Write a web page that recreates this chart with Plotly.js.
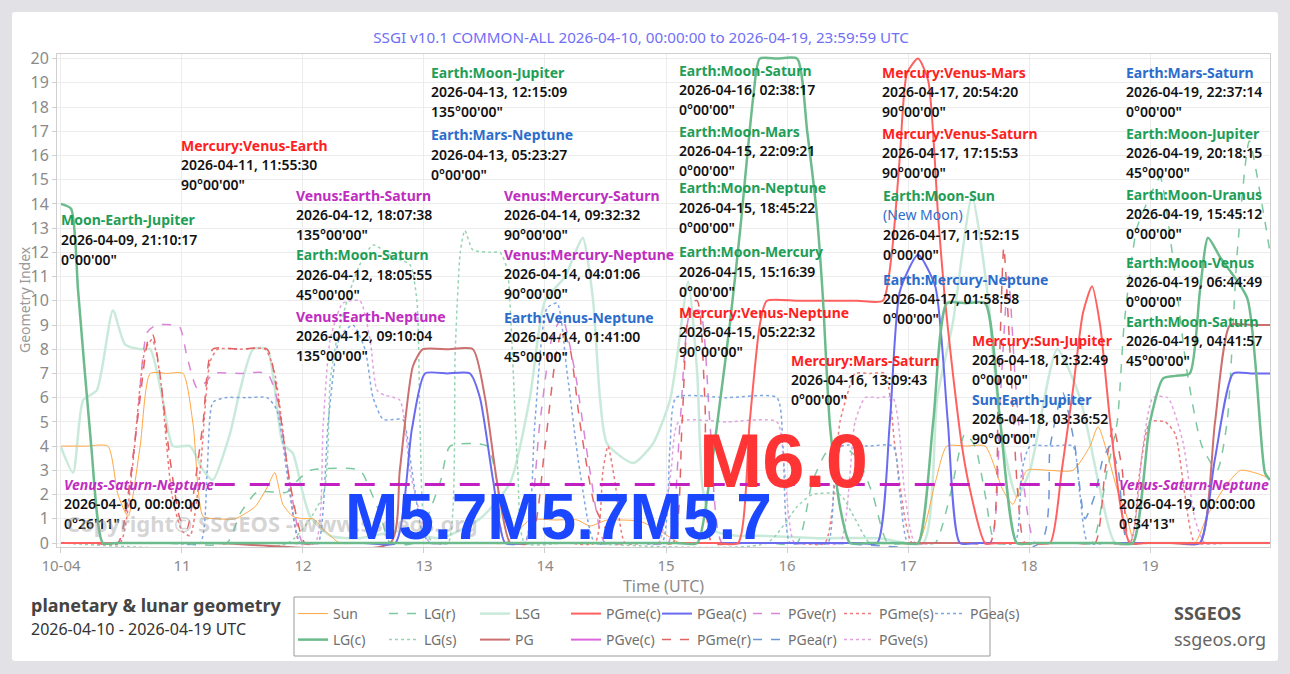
<!DOCTYPE html>
<html><head><meta charset="utf-8">
<script src="https://cdn.plot.ly/plotly-3.0.1.min.js"></script>
<style>
html,body{margin:0;padding:0;background:#e2e1e5;width:1290px;height:674px;overflow:hidden;}
#card{position:absolute;left:12px;top:12px;width:1266px;height:649px;background:#fff;border-radius:3px;}
#chart{position:absolute;left:0;top:0;width:1290px;height:674px;}
</style></head><body>
<div id="card"></div><div id="chart"></div>
<script>
// ---------------- DATA (hours since 2026-04-10 00:00 UTC, index value) ----------------
const dayLabels = ['10-04','11','12','13','14','15','16','17','18','19'];

const sunH = [0,5,9.3,11.3,13.3,15.7,17.7,21,24.2,26.2,28.2,31,34.5,38.5,40.9,42.4,44.0,46.0,48,50.0,52.4,55.3,60,84,88.1,93.0,98,102.4,104.9,108.3,111,114.8,118.8,122.8,128,165,170.0,173.4,175.7,179.5,183.3,186.8,188.8,191.6,196,200.7,204.1,205.7,209.5,211.4,213.0,216,221,224.9,227.3,230.8,233.9,236.8,239.4];
const sunV = [4,4,4,2,1.1,4,7,7,7,4.9,1.1,1,1,1.5,2.3,2.9,1.6,1.1,1,1,0.5,0,0,0,0,0.95,0.95,0.95,0.7,0.95,0.95,0.9,0.5,0,0,0,0,2.5,4,4,4,2.2,1.6,3,3,3,4,4.8,2.2,1.1,0,0,0,0,1.1,2.3,3,2.9,2.7];

const lgcH = [0,2.0,3.4,6.0,8.3,11,60,122,126.2,128.7,130.7,132.7,134.7,137.3,138.6,142,146.0,148.0,149.9,151.1,152.5,154.5,156.5,160,167,170,173,175.7,179.5,183.3,186.3,189.6,193,209,212.6,216,218.6,221,223.9,225.9,227.5,229.9,235.3,238.8,239.8];
const lgcV = [14,13.8,10.4,4,0,0,0,0,0,2.7,5.8,9.1,12.9,18.4,20,20,20,17,13.6,10.2,4.9,1.5,0,0,0,0,5,9.9,9.9,9.9,5,0,0,0,0,5,6.8,6.9,7.0,10.4,12.6,11.8,10.1,2.9,2.6];

const lgrH = [0,20,32.9,35.5,38.9,44.8,47,49.4,59.3,61.3,63.3,65.3,70,75.2,77.2,84.5,86.5,88.1,95,140,146,149,152,155,158,161,164,168,170,173.4,176.4,179.3,181.3,183.3,185.3,189,201,204.5,207.5,209.5,210.9,213.4,216.4,218.0,220.4,223.4,226.3,229.3,231.3,233.3,235.7,238.2,239.8];
const lgrV = [0,0,0,1.2,2.1,2.1,2.6,3,3,2.2,1.2,0,0,2.5,4,4,2.5,0,0,0,0,2.5,3.8,4,3.5,2,0,0,0,0,2,4.5,4,2,0,0,0,0,3,5,9.1,13,14.5,15.1,12,7,4,3,5,12,16.6,14,12];

const lgsH = [0,45,52.0,53.4,54.7,57.3,59.3,61.9,65.9,69.2,70.6,71.2,72.2,74,76.8,78.2,79.2,80.1,81.7,85.1,87.1,88.5,89.5,90.6,92.0,100,140,146,149,154.5,157.5,160.4,165,239.8];
const lgsV = [0,0,2,6.7,8.4,10.4,11.5,12.3,11.8,11.5,10,5,0.5,0,0,8,12,12.9,12.1,12,12,11.3,8,3,0,0,0,1.5,2,2,1,0,0,0];

const lsgH = [0,2.4,4.4,7.1,10.3,12.7,15.7,17.7,20.2,22.2,25.6,28.2,30.1,33.5,35.5,38.1,40.9,44.0,46.0,47.8,49.4,53.4,59.3,67.2,75.2,83.1,89.1,93.0,96.0,100.0,102.0,103.5,105.5,106.9,108.3,113.5,117.4,120.8,122.2,124.4,126.2,127.3,129.7,134,138.6,150,162.4,171.0,173.8,176.9,180.7,183.9,184.9,186.8,189.6,192.2,197.6,202.1,206.1,209.1,215,239.8];
const lsgV = [3.96,2.9,5.9,6.3,9.6,8.2,8.0,8.0,5.9,4.0,4.0,3.0,2.6,4.5,6.3,8.0,8.0,4.1,3.7,2.2,1.1,0.3,0.2,0.5,0.2,1,2.5,6,10,11,12,12.6,10.1,6,4.1,3.3,4.1,5.9,7.7,10.8,7.0,2.2,0.5,0.3,0.3,0.2,0.2,0,6,9.1,14.3,10.1,7.7,4.2,1.9,3,8,6,2.2,0,0,0];

const pgH = [0,30,65.3,67.2,69.8,71.8,76.7,81.7,84.1,86.5,89.1,92,220,225.9,228.9,231.9,236,239.8];
const pgV = [0,0,0,3,7.3,8,8,8,6,2.5,0,0,0,0,5,9,9,9];

const pgmecH = [0,60,130,134.3,136.6,138.6,140.0,146,152,158,163.0,164.8,166.4,167.8,170.0,172.0,174.0,175.3,176.9,178.7,180.3,183.3,186,193,196.2,198.5,200.7,202.7,204.5,206.1,208.1,210.1,212.0,215,239.8];
const pgmecV = [0,0,0,0,5,9,10,10,10,10,10,12,16,19.4,20,19.1,13.4,10.1,7,4,2.2,0,0,0,0,3,6.3,9.5,10.6,9,5,1.6,0,0,0];

const pgeacH = [0,60,66.3,69.6,72.2,76.6,81.1,83.1,85.7,88.1,92,158,161.9,164.4,166.4,170.0,173.4,175.9,178.3,182,222,225.9,228.9,232.5,236,239.8];
const pgeacV = [0,0,0,4.7,7,7,7,6,2.6,0,0,0,0,5,10.4,11.9,10.6,5,0,0,0,0,3.5,7,7,7];

const pgvecH = [0,239.8];
const pgvecV = [0,0];

const pgverH = [0,6,11.3,13.1,15.1,17.1,19.0,22.2,23.6,25.0,27.0,29.0,30.1,35.5,40.9,42.8,45.4,48.0,52,88,92.0,95.0,97.4,99.4,102.0,104.9,107.9,112,116,120.4,122.8,124.8,126.7,128.7,131.1,136,180,184.3,186.3,187.9,189.2,191.2,193.2,198,239.8];
const pgverV = [0,0,0,1.5,5,8.7,9.0,9.0,8.9,7.7,6.4,6.7,7.0,7.0,7.0,6,2.5,0,0,0,0,5,8.5,9.3,7,3,0,0,0,0,5,9.5,9.6,5,0,0,0,0,6,11,7,2,0,0,0];

const pgvesH = [0,45,50.4,52,53.4,55.9,59.3,61.3,62.7,64.3,67.2,69.2,71.2,73.2,78,114,118.5,121,122.5,132,142,143.5,145.5,150,154.5,157.5,159.5,162,165,167.4,169.4,174,208,212,214.6,216.6,219.5,222.5,224.9,226.9,232,239.8];
const pgvesV = [0,0,0,4.9,8.4,9.9,10,8.4,6.3,6.1,5.9,3,1.2,0,0,0,0,3,5,5,5,3,0,0,0,5,6,6,6,2,0,0,0,0,4,6,6,4.2,1,0,0,0];

const pgmerH = [0,6,11.3,13.3,15.7,17.3,18.2,19.6,21.6,23.6,25.0,26.6,28.2,30.1,35.5,40.9,42.8,45.4,48.4,52,88,93.0,96.0,98.0,99.4,101.0,102.9,105.9,108.3,109.9,114,117,121.4,123.2,124.8,126.2,127.7,129.1,134,180,184.3,185.9,187.0,188.2,189.8,191.2,196,201,205.1,207.1,208.7,210.5,212.0,216,239.8];
const pgmerV = [0,0,0,2,6,8.4,8.6,7,3.5,1,0.6,2.5,5,8.0,8.0,8.0,6.3,2.5,0,0,0,0,4,7.5,8.8,8,5,1.5,0.5,0,0,0,0,5,9.9,10,6,0,0,0,0,6,12.2,8,2,0,0,0,0,3,4.8,3,0,0,0];

const pgmesH = [0,6,11.7,14.1,16.7,18.1,19.6,22.0,24.0,25.6,27.6,29.6,31.1,35.5,40.5,42.4,45.0,47.4,52,100,105.9,107.5,108.5,109.9,111.9,116,146,151.5,154.5,156.5,157.5,160.5,163.4,165.4,167.4,168.8,173,207,212.0,214.0,216.0,219.0,221.0,222.9,224.9,229,239.8];
const pgmesV = [0,0,0,3,8,8.4,7,2,0.5,0.3,3,7.5,8,8,8,7,3,0,0,0,0,3,4,2.5,0,0,0,0,5,6.5,7,7,7,4,1,0,0,0,0,3,5,5,4.5,2,0,0,0];

const pgeasH = [0,22,27.6,29.0,30.1,32.5,36.7,40.9,42.8,45.4,47.4,49,51.0,53.0,55.3,57.9,60.3,61.9,63.9,65.9,67.8,69.6,71.6,73.2,78,88,92.0,94.0,96.4,98.4,100.4,102.9,105.9,110,115,119.2,120.8,122.0,132,142.0,143.2,144.6,148,152.1,153.5,154.9,160,165.0,166.4,168.0,172,185,189.2,190.6,192.2,196.5,200.7,202.1,203.7,208,239.8];
const pgeasV = [0,0,0,3,5.8,6,6,6,5.5,2,0,0,0,5,8.5,9,8,6,5.1,5.1,5.1,3,0.5,0,0,0,0,5,9.7,9.9,7,3,0,0,0,0,4,6,6,6,4,0,0,0,3,4,4,4,2,0,0,0,0,3,4,4,4,2,0,0,0];

const pgearH = [0,150,194.2,196.2,198.7,201.1,203.1,205.1,206.7,208.1,209.7,211.6,216,239.8];
const pgearV = [0,0,0,4,6.2,4,1,2,3.5,4,3,0,0,0];

// horizontal Venus-Saturn-Neptune level
const vsnH = [30.5, 206.0];
const vsnV = [2.42, 2.42];

// event labels
const evTitle = ['Moon-Earth-Jupiter','Mercury:Venus-Earth','Venus:Earth-Saturn','Earth:Moon-Saturn','Venus:Earth-Neptune',
 'Earth:Moon-Jupiter','Earth:Mars-Neptune','Venus:Mercury-Saturn','Venus:Mercury-Neptune','Earth:Venus-Neptune',
 'Earth:Moon-Saturn','Earth:Moon-Mars','Earth:Moon-Neptune','Earth:Moon-Mercury','Mercury:Venus-Neptune','Mercury:Mars-Saturn',
 'Mercury:Venus-Mars','Mercury:Venus-Saturn','Earth:Moon-Sun','Earth:Mercury-Neptune','Mercury:Sun-Jupiter','Sun:Earth-Jupiter',
 'Earth:Mars-Saturn','Earth:Moon-Jupiter','Earth:Moon-Uranus','Earth:Moon-Venus','Earth:Moon-Saturn',
 'Venus-Saturn-Neptune','Venus-Saturn-Neptune'];
const evNote = ['','','','','','','','','','','','','','','','','','','(New Moon)','','','','','','','','','',''];
const evTime = ['2026-04-09, 21:10:17','2026-04-11, 11:55:30','2026-04-12, 18:07:38','2026-04-12, 18:05:55','2026-04-12, 09:10:04',
 '2026-04-13, 12:15:09','2026-04-13, 05:23:27','2026-04-14, 09:32:32','2026-04-14, 04:01:06','2026-04-14, 01:41:00',
 '2026-04-16, 02:38:17','2026-04-15, 22:09:21','2026-04-15, 18:45:22','2026-04-15, 15:16:39','2026-04-15, 05:22:32','2026-04-16, 13:09:43',
 '2026-04-17, 20:54:20','2026-04-17, 17:15:53','2026-04-17, 11:52:15','2026-04-17, 01:58:58','2026-04-18, 12:32:49','2026-04-18, 03:36:52',
 '2026-04-19, 22:37:14','2026-04-19, 20:18:15','2026-04-19, 15:45:12','2026-04-19, 06:44:49','2026-04-19, 04:41:57',
 '2026-04-10, 00:00:00','2026-04-19, 00:00:00'];
const evAngle = ['0°00\'00"','90°00\'00"','135°00\'00"','45°00\'00"','135°00\'00"',
 '135°00\'00"','0°00\'00"','90°00\'00"','90°00\'00"','45°00\'00"',
 '0°00\'00"','0°00\'00"','0°00\'00"','0°00\'00"','90°00\'00"','0°00\'00"',
 '90°00\'00"','90°00\'00"','0°00\'00"','0°00\'00"','0°00\'00"','90°00\'00"',
 '0°00\'00"','45°00\'00"','0°00\'00"','0°00\'00"','45°00\'00"',
 '0°26\'11"','0°34\'13"'];
const evKind = ['lunar','mercury','venus','lunar','venus','lunar','earth','venus','venus','earth',
 'lunar','lunar','lunar','lunar','mercury','mercury','mercury','mercury','lunar','earth','mercury','earth',
 'earth','lunar','lunar','lunar','lunar','triple','triple'];

// ---------------- LAYOUT / STYLE ----------------
const W = 1290, H = 674;
const PL = 57, PR = 1270, PT = 54, PB = 547;
const kindColor = {lunar:'#1f9e57', mercury:'#ff1f1f', venus:'#c02cc0', earth:'#2c6dcc', triple:'#c02cc0'};
// label anchor pixel positions (left edge, centre of first line)
const evPos = [[59,220],[179,145],[294,195],[294,255],[294,316],[429,72],[429,135],[502,195],[502,254],[502,317],
 [677,70],[677,131],[677,188],[677,252],[677,312],[789,360],[880,72],[880,133],[881,195],[881,279],[970,340],[970,399],
 [1124,72],[1124,133],[1124,194],[1124,262],[1124,321],[62,484],[1117,484]];

const base = Date.UTC(2026,3,10);
function T(h){ return new Date(base + h*3600000).toISOString().replace('T',' ').slice(0,19); }
const px2x = p => (p-PL)/(PR-PL);
const px2y = p => (PB-p)/(PB-PT);

function tr(name, hs, vs, color, width, dash, legend, rank){
  return {type:'scatter', mode:'lines', name:name, x:hs.map(T), y:vs,
    line:{color:color, width:width, dash:dash, shape:'spline', smoothing:0.6, simplify:false},
    legend:legend, legendrank:rank, hoverinfo:'skip'};
}
const traces = [
  tr('PGve(c)', pgvecH, pgvecV, '#dd66dd', 2, 'solid', 'legend2', 12),
  tr('LSG', lsgH, lsgV, '#c9eadb', 2.5, 'solid', 'legend', 3),
  tr('Sun', sunH, sunV, '#ffa640', 1, 'solid', 'legend', 1),
  tr('LG(r)', lgrH, lgrV, '#7cc9a0', 1.5, 'dash', 'legend', 2),
  tr('LG(s)', lgsH, lgsV, '#96d4b2', 1.5, 'dot', 'legend2', 10),
  tr('PGve(r)', pgverH, pgverV, '#d986d9', 1.5, 'dash', 'legend', 6),
  tr('PGve(s)', pgvesH, pgvesV, '#e0a3e0', 1.5, 'dot', 'legend2', 15),
  tr('PGme(s)', pgmesH, pgmesV, '#ec7b7b', 1.5, 'dot', 'legend', 7),
  tr('PGme(r)', pgmerH, pgmerV, '#e36363', 1.5, 'dash', 'legend2', 13),
  tr('PGea(s)', pgeasH, pgeasV, '#7ea7df', 1.5, 'dot', 'legend', 8),
  tr('PGea(r)', pgearH, pgearV, '#6b97d6', 1.5, 'dash', 'legend2', 14),
  tr('PG', pgH, pgV, '#cc6f6f', 2, 'solid', 'legend2', 11),
  tr('PGea(c)', pgeacH, pgeacV, '#6b6bef', 2, 'solid', 'legend', 5),
  tr('PGme(c)', pgmecH, pgmecV, '#ff6161', 2, 'solid', 'legend', 4),
  tr('LG(c)', lgcH, lgcV, '#6cbb8c', 2.5, 'solid', 'legend2', 9),
  {type:'scatter', mode:'lines', x:vsnH.map(T), y:vsnV, showlegend:false, hoverinfo:'skip',
   line:{color:'#c21fc2', width:3, dash:'20px,15px'}}
];

const F = 'Noto Sans, Open Sans, sans-serif';
const ann = [];
evTitle.forEach((t,i)=>{
  const [lx, ly] = evPos[i];
  const c = kindColor[evKind[i]];
  const lines = [{text:t, color:c, weight:700, style: evKind[i]==='triple'?'italic':'normal'}];
  if (evNote[i]) lines.push({text:evNote[i], color:'#2c6dcc', weight:400, style:'normal'});
  lines.push({text:evTime[i], color:'#111', weight:600, style:'normal'});
  lines.push({text:evAngle[i], color:'#111', weight:600, style:'normal'});
  lines.forEach((L,k)=>{
    ann.push({xref:'paper', yref:'paper', x:px2x(lx), y:px2y(ly + k*19.8), xanchor:'left', yanchor:'middle',
      text:L.text, showarrow:false, font:{family:F, size:14, color:L.color, weight:L.weight, style:L.style}});
  });
});
// y axis title
ann.push({xref:'paper', yref:'paper', x:px2x(24), y:px2y(300), xanchor:'center', yanchor:'middle', showarrow:false,
  textangle:-90, text:'Geometry Index', font:{family:F, size:14, color:'#9a9a9a'}});
// watermark
ann.push({xref:'paper', yref:'paper', x:px2x(64), y:px2y(523), xanchor:'left', yanchor:'middle', showarrow:false,
  text:'Copyright© SSGEOS - www.ssgeos.org', font:{family:F, size:22, color:'rgba(160,160,160,0.45)', weight:700}});
// magnitudes
ann.push({xref:'paper', yref:'paper', x:px2x(343), y:px2y(517), xanchor:'left', yanchor:'middle', showarrow:false,
  text:'M5.7M5.7M5.7', font:{family:'Liberation Sans, Arial, sans-serif', size:64, color:'#1a47ff', weight:700}});
ann.push({xref:'paper', yref:'paper', x:px2x(697), y:px2y(460), xanchor:'left', yanchor:'middle', showarrow:false,
  text:'M6.0', font:{family:'Liberation Sans, Arial, sans-serif', size:76, color:'#ff3535', weight:700}});
// footer
ann.push({xref:'paper', yref:'paper', x:px2x(29), y:px2y(605), xanchor:'left', yanchor:'middle', showarrow:false,
  text:'planetary & lunar geometry', font:{family:F, size:18, color:'#444', weight:700}});
ann.push({xref:'paper', yref:'paper', x:px2x(29), y:px2y(629), xanchor:'left', yanchor:'middle', showarrow:false,
  text:'2026-04-10 - 2026-04-19 UTC', font:{family:F, size:16, color:'#333'}});
ann.push({xref:'paper', yref:'paper', x:px2x(1172), y:px2y(613), xanchor:'left', yanchor:'middle', showarrow:false,
  text:'SSGEOS', font:{family:F, size:18, color:'#555', weight:700}});
ann.push({xref:'paper', yref:'paper', x:px2x(1172), y:px2y(639), xanchor:'left', yanchor:'middle', showarrow:false,
  text:'ssgeos.org', font:{family:F, size:18, color:'#666'}});

const legFont = {family:F, size:14, color:'#707070'};
const layout = {
  width:W, height:H, paper_bgcolor:'rgba(0,0,0,0)', plot_bgcolor:'#fff',
  margin:{l:PL, r:W-PR, t:PT, b:H-PB},
  font:{family:F},
  title:{text:'SSGI v10.1 COMMON-ALL 2026-04-10, 00:00:00 to 2026-04-19, 23:59:59 UTC', xref:'container', x:0.497, xanchor:'center',
    yref:'container', y:1-38/H, yanchor:'middle', font:{family:F, size:15.2, color:'#6f6ff5'}},
  xaxis:{type:'date', range:[T(-0.79), T(239.8)], tickvals:dayLabels.map((d,i)=>T(24*i)), ticktext:dayLabels,
    showgrid:true, gridcolor:'#ececec', zeroline:false, showline:true, linecolor:'#cfcfcf', mirror:true,
    ticks:'outside', ticklen:5, tickcolor:'#cfcfcf', tickfont:{family:F, size:15, color:'#8a8a8a'},
    title:{text:'Time (UTC)', standoff:1, font:{family:F, size:16, color:'#8a8a8a'}}},
  yaxis:{range:[-0.165, 20.19], dtick:1, tick0:0, showgrid:true, gridcolor:'#ececec', zeroline:false,
    showline:true, linecolor:'#cfcfcf', mirror:true, ticks:'outside', ticklen:4, tickcolor:'#cfcfcf',
    tickfont:{family:F, size:16, color:'#8a8a8a'}},
  legend:{orientation:'h', x:px2x(293), y:px2y(598), xanchor:'left', yanchor:'top', entrywidth:46, entrywidthmode:'pixels',
    bgcolor:'rgba(0,0,0,0)', borderwidth:0, font:legFont, itemwidth:30, tracegroupgap:0},
  legend2:{orientation:'h', x:px2x(293), y:px2y(624), xanchor:'left', yanchor:'top', entrywidth:46, entrywidthmode:'pixels',
    bgcolor:'rgba(0,0,0,0)', borderwidth:0, font:legFont, itemwidth:30, tracegroupgap:0},
  shapes:[{type:'rect', xref:'paper', yref:'paper', x0:px2x(294), x1:px2x(990), y0:px2y(597), y1:px2y(656),
    line:{color:'#9a9a9a', width:1}, fillcolor:'rgba(0,0,0,0)'}],
  annotations:ann,
  showlegend:true
};
Plotly.newPlot('chart', traces, layout, {staticPlot:true, displayModeBar:false});
</script></body></html>
